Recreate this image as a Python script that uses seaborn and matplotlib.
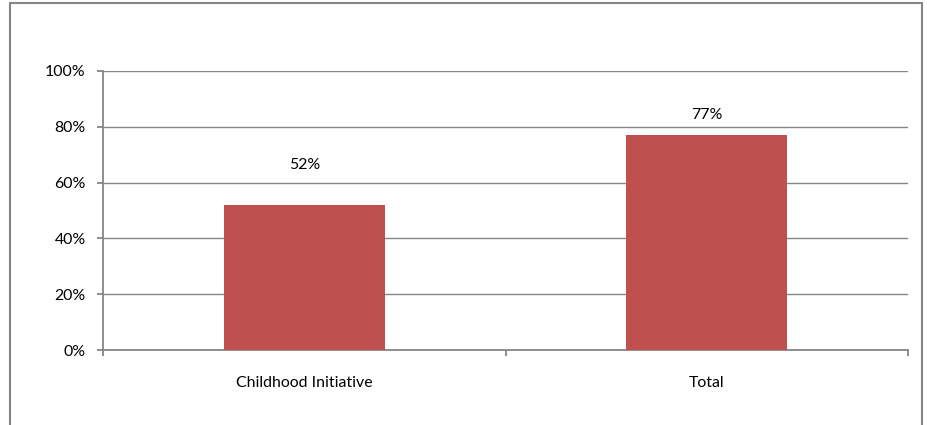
import matplotlib
matplotlib.use("Agg")
import matplotlib.pyplot as plt
import seaborn as sns
import pandas as pd
from matplotlib.patches import Rectangle

categories = ["Childhood Initiative", "Total"]
values = [0.52, 0.77]
value_labels = ["52%", "77%"]
y_ticks = [0, 0.2, 0.4, 0.6, 0.8, 1.0]
y_tick_labels = ["0%", "20%", "40%", "60%", "80%", "100%"]

label_offsets_px = [40, 20]

sns.set_theme(style="white")
plt.rcParams["font.family"] = ["Lato", "DejaVu Sans"]

df = pd.DataFrame({"cat": categories, "val": values})

W, H = 927, 425
fig = plt.figure(figsize=(W / 100, H / 100), dpi=100)
ax = fig.add_axes([103 / W, 1 - 350 / H, (908 - 103) / W, (350 - 71) / H])

grid_c = "#868686"
bar_c = "#C0504D"
fs = 11.4

sns.barplot(data=df, x="cat", y="val", color=bar_c, width=0.4, ax=ax,
            saturation=1, edgecolor="none", zorder=3)

ax.set_ylim(0, 1.0)
ax.set_xlim(-0.5, len(categories) - 0.5)
ax.set_yticks(y_ticks)
ax.set_yticklabels(y_tick_labels)
ax.yaxis.grid(True, color=grid_c, linewidth=1.0, zorder=0)
ax.set_axisbelow(True)
ax.set_xlabel("")
ax.set_ylabel("")

for s in ["top", "right"]:
    ax.spines[s].set_visible(False)
for s in ["left", "bottom"]:
    ax.spines[s].set_color(grid_c)
    ax.spines[s].set_linewidth(1.3)

# x ticks: labels at centers, marks at category boundaries
ax.set_xticks(range(len(categories)))
ax.set_xticklabels(categories)
ax.tick_params(axis="x", which="major", length=0, pad=18.5, labelsize=fs, labelcolor="black")
ax.set_xticks([i - 0.5 for i in range(len(categories) + 1)], minor=True)
ax.tick_params(axis="x", which="minor", bottom=True, length=4.5, width=1.3, color=grid_c)
ax.tick_params(axis="y", length=4.5, width=1.3, color=grid_c, pad=8, labelsize=fs,
               labelcolor="black", left=True)

for i, (v, lab) in enumerate(zip(values, value_labels)):
    ax.annotate(lab, (i, v), xytext=(0, label_offsets_px[i] * 0.72),
                textcoords="offset points", ha="center", va="center",
                fontsize=fs, color="black")

# outer chart border
fig.patches.append(Rectangle((10 / W, -0.05), (922 - 10) / W, 1 - 3 / H + 0.05,
                             transform=fig.transFigure, fill=False,
                             edgecolor=grid_c, linewidth=1.5))

fig.savefig("out.png", dpi=100, facecolor="white")
